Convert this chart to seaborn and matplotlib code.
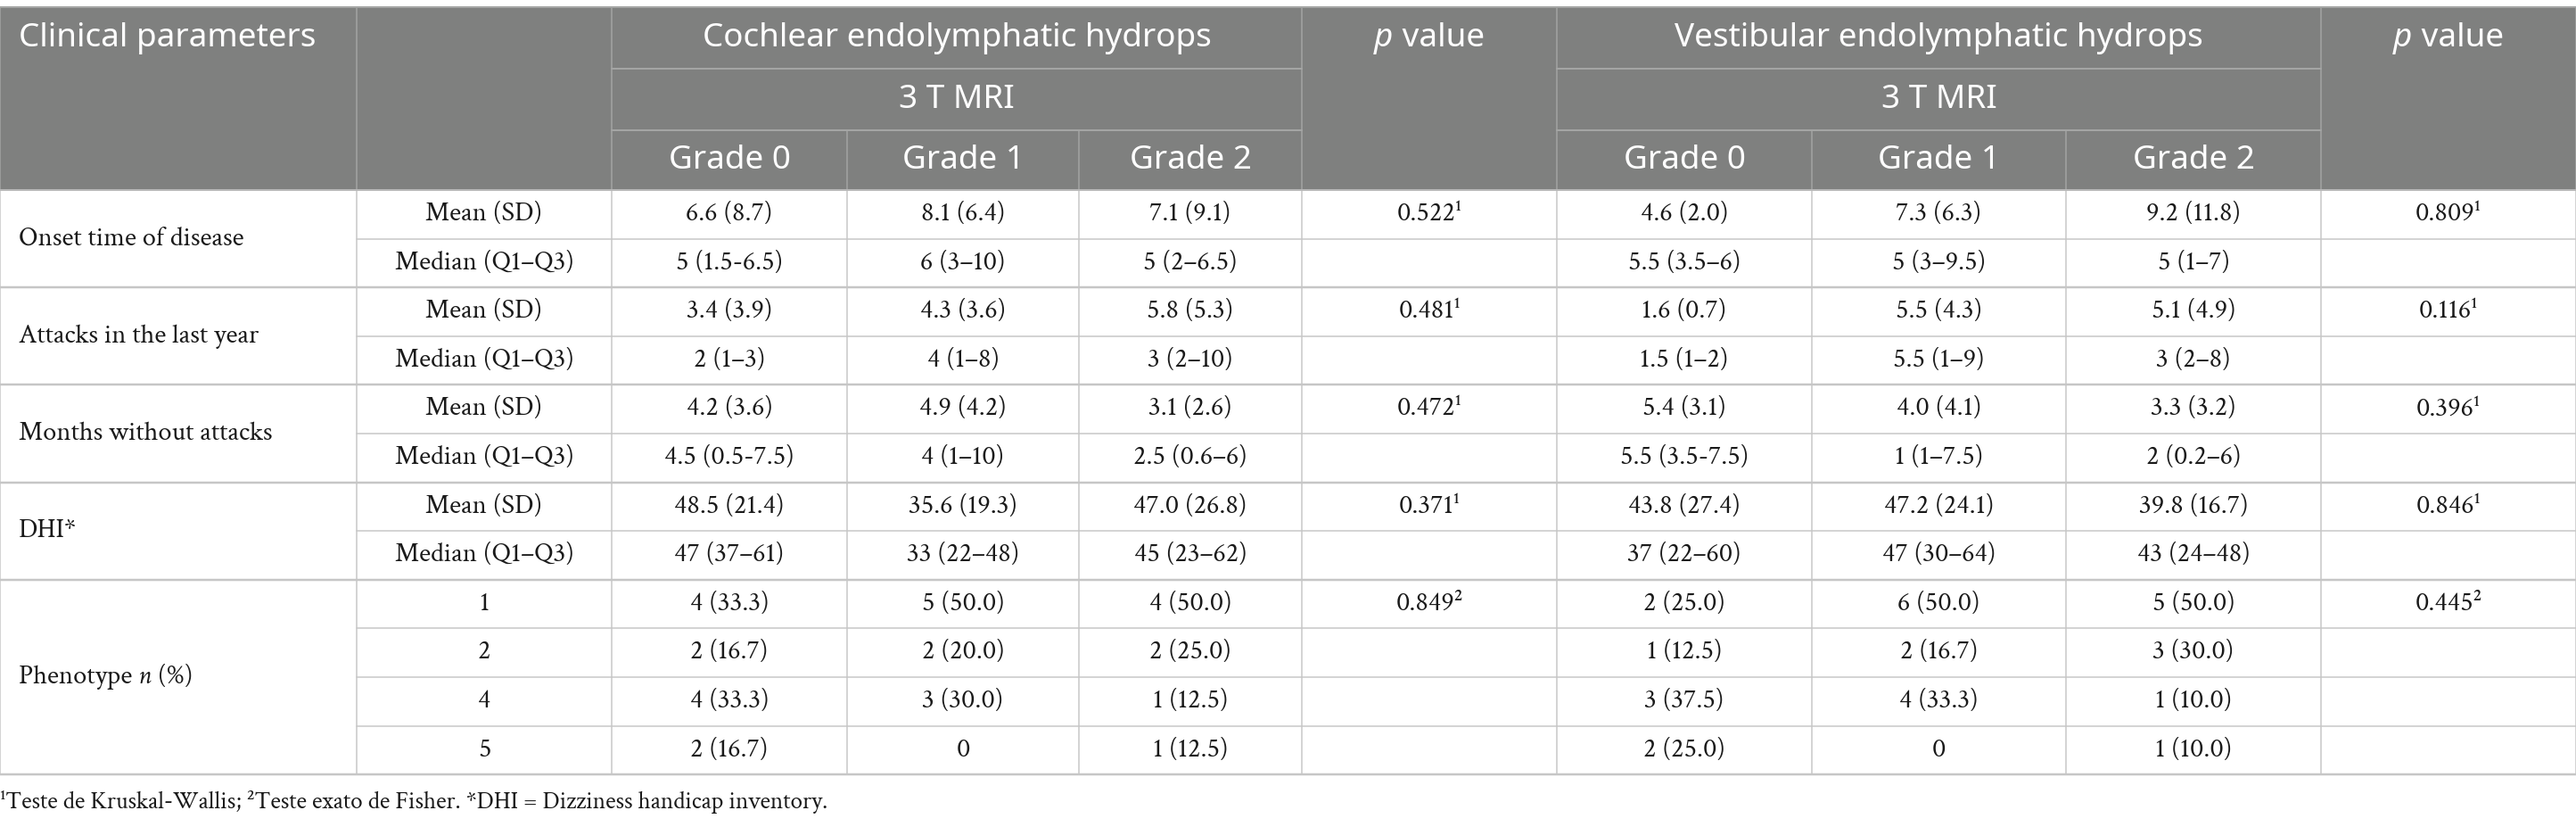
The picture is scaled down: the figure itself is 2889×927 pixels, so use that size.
import matplotlib
matplotlib.use("Agg")
import matplotlib.pyplot as plt
import seaborn as sns

sns.set_theme(style="white")
plt.rcParams['font.family'] = ['Crimson Text', 'Liberation Serif', 'DejaVu Serif']

# ---------------- data ----------------
param_labels = ["Onset time of disease", "Attacks in the last year",
                "Months without attacks", "DHI*", "Phenotype n (%)"]
sub_labels = [["Mean (SD)", "Median (Q1\u2013Q3)"],
              ["Mean (SD)", "Median (Q1\u2013Q3)"],
              ["Mean (SD)", "Median (Q1\u2013Q3)"],
              ["Mean (SD)", "Median (Q1\u2013Q3)"],
              ["1", "2", "4", "5"]]

cochlear_g0 = ["6.6 (8.7)", "5 (1.5-6.5)", "3.4 (3.9)", "2 (1\u20133)", "4.2 (3.6)", "4.5 (0.5-7.5)",
               "48.5 (21.4)", "47 (37\u201361)", "4 (33.3)", "2 (16.7)", "4 (33.3)", "2 (16.7)"]
cochlear_g1 = ["8.1 (6.4)", "6 (3\u201310)", "4.3 (3.6)", "4 (1\u20138)", "4.9 (4.2)", "4 (1\u201310)",
               "35.6 (19.3)", "33 (22\u201348)", "5 (50.0)", "2 (20.0)", "3 (30.0)", "0"]
cochlear_g2 = ["7.1 (9.1)", "5 (2\u20136.5)", "5.8 (5.3)", "3 (2\u201310)", "3.1 (2.6)", "2.5 (0.6\u20136)",
               "47.0 (26.8)", "45 (23\u201362)", "4 (50.0)", "2 (25.0)", "1 (12.5)", "1 (12.5)"]
cochlear_p = ["0.522\u00b9", "", "0.481\u00b9", "", "0.472\u00b9", "", "0.371\u00b9", "",
              "0.849\u00b2", "", "", ""]
vest_g0 = ["4.6 (2.0)", "5.5 (3.5\u20136)", "1.6 (0.7)", "1.5 (1\u20132)", "5.4 (3.1)", "5.5 (3.5-7.5)",
           "43.8 (27.4)", "37 (22\u201360)", "2 (25.0)", "1 (12.5)", "3 (37.5)", "2 (25.0)"]
vest_g1 = ["7.3 (6.3)", "5 (3\u20139.5)", "5.5 (4.3)", "5.5 (1\u20139)", "4.0 (4.1)", "1 (1\u20137.5)",
           "47.2 (24.1)", "47 (30\u201364)", "6 (50.0)", "2 (16.7)", "4 (33.3)", "0"]
vest_g2 = ["9.2 (11.8)", "5 (1\u20137)", "5.1 (4.9)", "3 (2\u20138)", "3.3 (3.2)", "2 (0.2\u20136)",
           "39.8 (16.7)", "43 (24\u201348)", "5 (50.0)", "3 (30.0)", "1 (10.0)", "1 (10.0)"]
vest_p = ["0.809\u00b9", "", "0.116\u00b9", "", "0.396\u00b9", "", "0.846\u00b9", "",
          "0.445\u00b2", "", "", ""]

group_headers = ["Cochlear endolymphatic hydrops", "Vestibular endolymphatic hydrops"]
mri_label = "3 T MRI"
grade_labels = ["Grade 0", "Grade 1", "Grade 2"]
footnote = ("\u00b9Teste de Kruskal-Wallis; \u00b2Teste exato de Fisher. "
            "*DHI = Dizziness handicap inventory.")

# ---------------- layout ----------------
W, H = 2889, 927
col_x = [0, 400, 686, 950, 1210, 1460, 1746, 2032, 2317, 2603, 2889]
hdr_y = [8, 77, 146, 213]
row_h = 54.6
n_rows = 12
table_bottom = hdr_y[3] + n_rows * row_h

HDR_BG = "#7f807f"
HDR_LINE = "#a4a5a4"
GRID = "#c6c6c6"
TXT = "#1a1a1a"
SANS = "Noto Sans"

fig = plt.figure(figsize=(W / 100, H / 100), dpi=100)
ax = fig.add_axes([0, 0, 1, 1])
ax.set_xlim(0, W)
ax.set_ylim(H, 0)
ax.axis("off")
renderer = fig.canvas.get_renderer()

def fit_size(s, target_px, base=20, **kw):
    t = ax.text(0, 0, s, fontsize=base, **kw)
    w = t.get_window_extent(renderer).width
    t.remove()
    return base * target_px / w

# font sizes fitted to measured widths in the reference
HDR_FS = fit_size("Clinical parameters", 333, family=SANS)
DATA_FS = fit_size("Median (Q1\u2013Q3)", 201)
FOOT_FS = fit_size(footnote, 930)

px = 0.72  # 1 pixel in points

# header background
ax.fill_between([0, W], hdr_y[0], hdr_y[3], color=HDR_BG, lw=0)

# header lines
ax.plot([0, W], [hdr_y[0], hdr_y[0]], color=HDR_LINE, lw=2 * px)
for x in [0, 400, 686, 1460, 1746, 2603, 2889]:
    ax.plot([x, x], [hdr_y[0], hdr_y[3]], color=HDR_LINE, lw=1.5 * px)
for x in [950, 1210, 2032, 2317]:
    ax.plot([x, x], [hdr_y[2], hdr_y[3]], color=HDR_LINE, lw=1.5 * px)
for (a, b) in [(686, 1460), (1746, 2603)]:
    for y in [hdr_y[1], hdr_y[2]]:
        ax.plot([a, b], [y, y], color=HDR_LINE, lw=2 * px)

def ctext(x, y, s, **kw):
    ax.text(x, y, s, ha="center", va="center", **kw)

def seg_text(x, y, segs, align, base_kw):
    """draw a run of (text, style) segments; align 'left' or 'center'"""
    arts = []
    for s, st in segs:
        t = ax.text(0, y, s, ha="left", va="center", style=st, **base_kw)
        arts.append(t)
    widths = [t.get_window_extent(renderer).width for t in arts]
    total = sum(widths)
    cur = x - total / 2 if align == "center" else x
    for t, w in zip(arts, widths):
        t.set_x(cur)
        cur += w

# header texts
hkw = dict(color="white", fontsize=HDR_FS, family=SANS)
ax.text(21, (hdr_y[0] + hdr_y[1]) / 2, "Clinical parameters", ha="left", va="center", **hkw)
for gi, (a, b) in enumerate([(686, 1460), (1746, 2603)]):
    ctext((a + b) / 2, (hdr_y[0] + hdr_y[1]) / 2, group_headers[gi], **hkw)
    ctext((a + b) / 2, (hdr_y[1] + hdr_y[2]) / 2, mri_label, **hkw)
for i, g in enumerate(grade_labels):
    for base in (2, 6):
        ctext((col_x[base + i] + col_x[base + i + 1]) / 2, (hdr_y[2] + hdr_y[3]) / 2, g, **hkw)
for (a, b) in [(1460, 1746), (2603, 2889)]:
    seg_text((a + b) / 2, (hdr_y[0] + hdr_y[1]) / 2,
             [("p", "italic"), (" value", "normal")], "center", hkw)

# data grid
row_tops = [hdr_y[3] + i * row_h for i in range(n_rows + 1)]
for x in col_x:
    ax.plot([x, x], [hdr_y[3], table_bottom], color=GRID, lw=1.5 * px)

group_sizes = [len(s) for s in sub_labels]
group_starts = []
r = 0
for gs in group_sizes:
    group_starts.append(r)
    r += gs
for i in range(1, n_rows + 1):
    y = row_tops[i]
    if i in group_starts or i == n_rows:
        ax.plot([0, W], [y, y], color=GRID, lw=2.5 * px)
    else:
        ax.plot([400, W], [y, y], color=GRID, lw=1.5 * px)
ax.plot([0, W], [hdr_y[3], hdr_y[3]], color="#b8b8b8", lw=2 * px)

dkw = dict(color=TXT, fontsize=DATA_FS)
for gi, (lab, subs) in enumerate(zip(param_labels, sub_labels)):
    r0 = group_starts[gi]
    yc = (row_tops[r0] + row_tops[r0 + len(subs)]) / 2
    if lab.startswith("Phenotype"):
        seg_text(21, yc, [("Phenotype ", "normal"), ("n", "italic"), (" (%)", "normal")], "left", dkw)
    else:
        ax.text(21, yc, lab, ha="left", va="center", **dkw)
    for k, s in enumerate(subs):
        ctext((400 + 686) / 2, (row_tops[r0 + k] + row_tops[r0 + k + 1]) / 2, s, **dkw)

columns = [cochlear_g0, cochlear_g1, cochlear_g2, cochlear_p, vest_g0, vest_g1, vest_g2, vest_p]
for ci, colvals in enumerate(columns):
    xc = (col_x[ci + 2] + col_x[ci + 3]) / 2
    for ri, v in enumerate(colvals):
        if v:
            ctext(xc, (row_tops[ri] + row_tops[ri + 1]) / 2, v, **dkw)

ax.text(0, 899, footnote, ha="left", va="center", color=TXT, fontsize=FOOT_FS)

fig.savefig("out.png", dpi=100, facecolor="white")
